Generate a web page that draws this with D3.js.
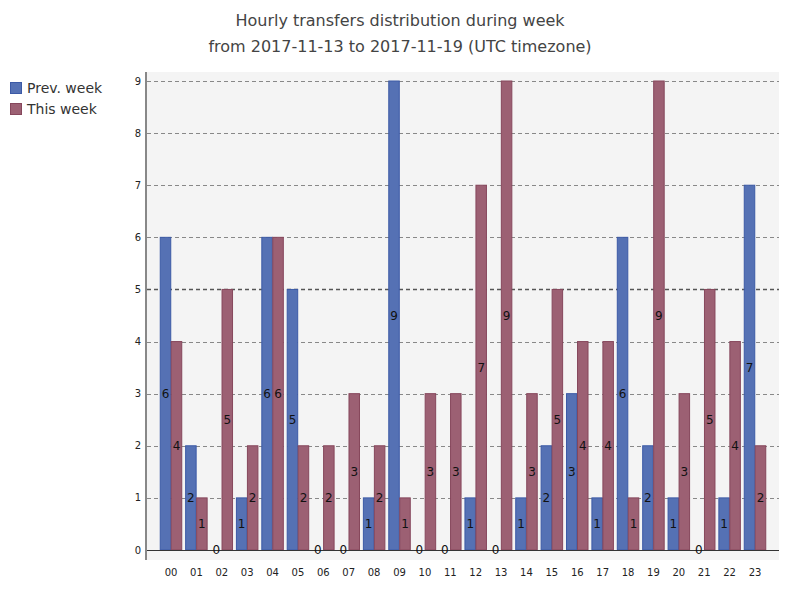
<!DOCTYPE html>
<html><head><meta charset="utf-8">
<script src="https://cdn.jsdelivr.net/npm/d3@7"></script>
<style>body{margin:0;background:#fff}svg{display:block;font-family:"DejaVu Sans",sans-serif}</style>
</head><body>
<svg id="c" width="800" height="600"></svg>
<script>
const hours = ["00","01","02","03","04","05","06","07","08","09","10","11","12","13","14","15","16","17","18","19","20","21","22","23"];
const prevWeek = [6,2,0,1,6,5,0,0,1,9,0,0,1,0,1,2,3,1,6,2,1,0,1,7];
const thisWeek = [4,1,5,2,6,2,2,3,2,1,3,3,7,9,3,5,4,4,1,9,3,5,4,2];
const yTicks = [0,1,2,3,4,5,6,7,8,9];
const seriesNames = ["Prev. week","This week"];
const titleLines = ["Hourly transfers distribution during week","from 2017-11-13 to 2017-11-19 (UTC timezone)"];

const fills = ["#5571b4","#9c6073"];
const strokes = ["#3c5aa6","#86475c"];

const svg = d3.select("#c");
const plot = {x0:147, x1:779, y0:72, y1:560};
const x = d3.scaleBand().domain(hours).range([158.3, 767.7]);
const y = d3.scaleLinear().domain([0,9]).range([550, 81]);

// title
svg.selectAll("text.title").data(titleLines).join("text")
  .attr("x",400).attr("y",(d,i)=>26+i*26).attr("text-anchor","middle")
  .attr("font-size",16).attr("fill","#444").text(d=>d);

// background
svg.append("rect").attr("x",plot.x0).attr("y",plot.y0).attr("width",plot.x1-plot.x0).attr("height",plot.y1-plot.y0).attr("fill","#f4f4f4");

// grid
svg.selectAll("line.grid").data(yTicks.filter(d=>d>0)).join("line")
  .attr("x1",plot.x0).attr("x2",plot.x1).attr("y1",d=>Math.round(y(d))+0.5).attr("y2",d=>Math.round(y(d))+0.5)
  .attr("stroke",d=>d===5?"#555":"#888").attr("stroke-width",d=>d===5?1.5:1).attr("stroke-dasharray","4,3");

// bars
const bw = 10.5;
const g = svg.append("g");
[prevWeek, thisWeek].forEach((vals, si) => {
  const off = si===0 ? -bw-0.25 : 0.25;
  g.selectAll("rect.s"+si).data(vals.map((v,i)=>({h:hours[i],v}))).join("rect")
    .filter(d=>d.v>0)
    .attr("x",d=>x(d.h)+x.bandwidth()/2+off).attr("width",bw)
    .attr("y",d=>y(d.v)).attr("height",d=>y(0)-y(d.v))
    .attr("fill",fills[si]).attr("stroke",strokes[si]).attr("stroke-width",1);
});

// zero line
svg.append("line").attr("x1",plot.x0).attr("x2",plot.x1).attr("y1",y(0)+0.5).attr("y2",y(0)+0.5).attr("stroke","#333").attr("stroke-width",1);

// labels
[prevWeek, thisWeek].forEach((vals, si) => {
  const off = si===0 ? -bw/2-0.25 : bw/2+0.25;
  svg.selectAll("text.l"+si).data(vals.map((v,i)=>({h:hours[i],v}))).join("text")
    .filter(d=>!(si===1 && d.v===0))
    .attr("x",d=>x(d.h)+x.bandwidth()/2+off).attr("y",d=>y(d.v/2))
    .attr("text-anchor","middle").attr("dominant-baseline","central")
    .attr("font-size",12).attr("fill","#111").text(d=>d.v);
});

// left axis
svg.append("line").attr("x1",146).attr("x2",146).attr("y1",plot.y0).attr("y2",plot.y1).attr("stroke","#888").attr("stroke-width",2);
svg.selectAll("text.yt").data(yTicks).join("text")
  .attr("x",141).attr("y",d=>y(d)).attr("text-anchor","end").attr("dominant-baseline","central")
  .attr("font-size",10).attr("fill","#222").text(d=>d);
svg.selectAll("text.xt").data(hours).join("text")
  .attr("x",d=>x(d)+x.bandwidth()/2).attr("y",572).attr("text-anchor","middle").attr("dominant-baseline","central")
  .attr("font-size",10).attr("fill","#222").text(d=>d);

// legend
const lg = svg.append("g");
seriesNames.forEach((n,i)=>{
  lg.append("rect").attr("x",10.5).attr("y",82.5+i*21).attr("width",11).attr("height",11).attr("fill",fills[i]).attr("stroke",strokes[i]);
  lg.append("text").attr("x",27).attr("y",88+i*21).attr("dominant-baseline","central").attr("font-size",14).attr("fill","#333").text(n);
});
</script>
</body></html>
